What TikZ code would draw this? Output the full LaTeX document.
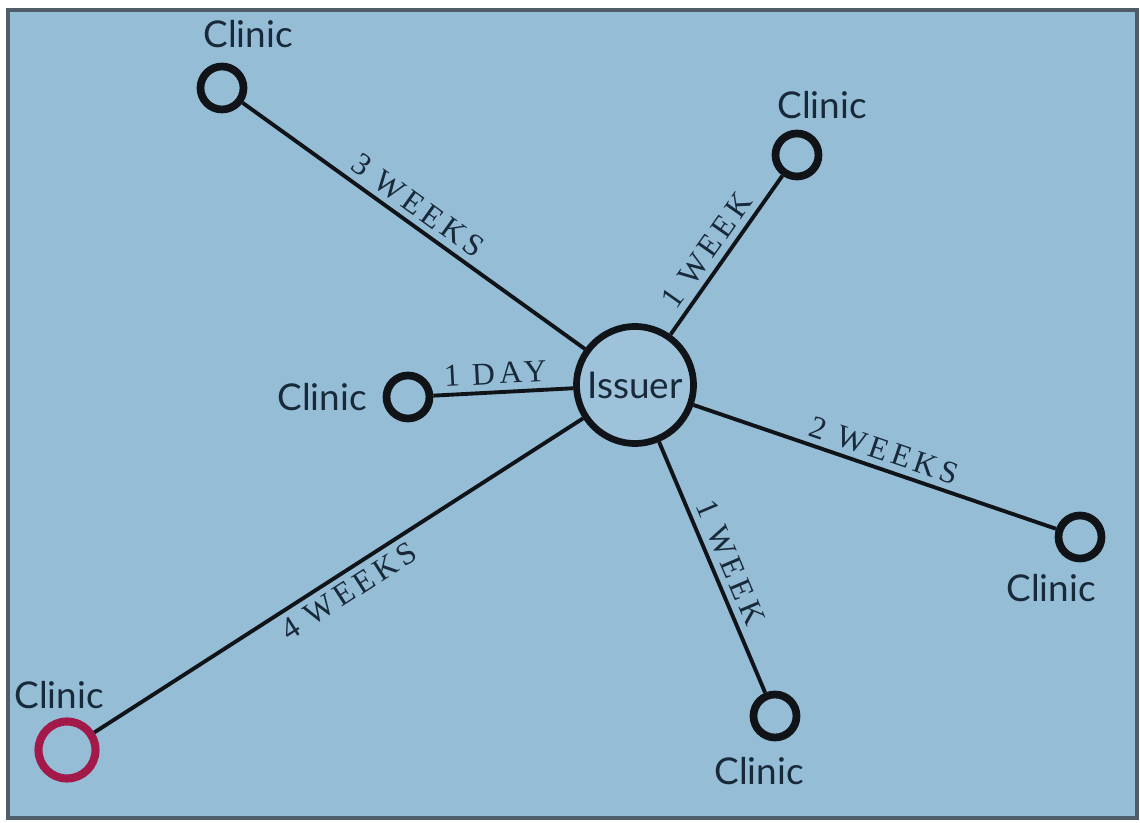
\documentclass[tikz,border=0pt]{standalone}
\usepackage{fontspec}
\setmainfont{Liberation Serif}
\setsansfont{Lato}
\newfontfamily\weekfont[LetterSpace=14]{Liberation Serif}
\usepackage{xcolor}
\definecolor{mapBlue}{HTML}{95BDD6}
\definecolor{frameGray}{HTML}{4E5D68}
\definecolor{ringInk}{HTML}{101418}
\definecolor{textNavy}{HTML}{18293A}
\definecolor{clinicRed}{HTML}{A3194A}
\usepackage{tikz}
\usetikzlibrary{shadows}
\tikzset{
  clinic/.style={circle,draw=ringInk,line width=4.4pt,fill=mapBlue,minimum size=8.6mm,inner sep=0pt,
    drop shadow={opacity=0.25,shadow xshift=1.6pt,shadow yshift=-1.6pt}},
  issuer/.style={circle,draw=ringInk,line width=3.8pt,fill=mapBlue!92!white,minimum size=23.4mm,inner sep=0pt,
    font=\sffamily\fontsize{21}{24}\selectfont,text=textNavy,
    drop shadow={opacity=0.25,shadow xshift=1.6pt,shadow yshift=-1.6pt}},
  clinictext/.style={font=\sffamily\fontsize{21}{24}\selectfont,text=textNavy,inner sep=0pt},
  edge/.style={draw=ringInk,line width=2.2pt},
  weeks/.style={font=\weekfont\fontsize{18}{20}\selectfont,text=textNavy,sloped,inner sep=3.5pt},
}

\begin{document}
\begin{tikzpicture}[x=1cm,y=1cm]
  \useasboundingbox (0,0) rectangle (22.8,16.46);
  \draw[draw=frameGray,line width=2.2pt,fill=mapBlue] (0.16,0.1) rectangle (22.74,16.26);

  % hub
  \node[issuer] (iss) at (12.70,8.76) {Issuer};

  % clinics
  \node[clinic] (tl) at (4.44,14.70) {};
  \node[clinic] (tr) at (15.94,13.36) {};
  \node[clinic] (mid) at (8.16,8.52) {};
  \node[clinic] (rt) at (21.60,5.72) {};
  \node[clinic] (bot) at (15.50,2.14) {};
  \node[clinic,draw=clinicRed,line width=4.6pt,minimum size=11.4mm] (bl) at (1.34,1.46) {};

  \node[clinictext] (tllab) at (4.96,15.78) {Clinic};
  \node[clinictext] (trlab) at (16.44,14.36) {Clinic};
  \node[clinictext] (midlab) at (6.44,8.52) {Clinic};
  \node[clinictext] (rtlab) at (21.02,4.70) {Clinic};
  \node[clinictext] (botlab) at (15.18,1.04) {Clinic};
  \node[clinictext] (bllab) at (1.18,2.56) {Clinic};

  % spokes
  \draw[edge] (tl) -- node[weeks,above,pos=0.48] {3 WEEKS} (iss);
  \draw[edge] (iss) -- node[weeks,above,pos=0.46] {1 WEEK} (tr);
  \draw[edge] (mid) -- node[weeks,above,pos=0.45] {1 DAY} (iss);
  \draw[edge] (iss) -- node[weeks,above,pos=0.51] {2 WEEKS} (rt);
  \draw[edge] (iss) -- node[weeks,above,pos=0.51] {1 WEEK} (bot);
  \draw[edge] (bl) -- node[weeks,below,pos=0.50] {4 WEEKS} (iss);
\end{tikzpicture}
\end{document}
